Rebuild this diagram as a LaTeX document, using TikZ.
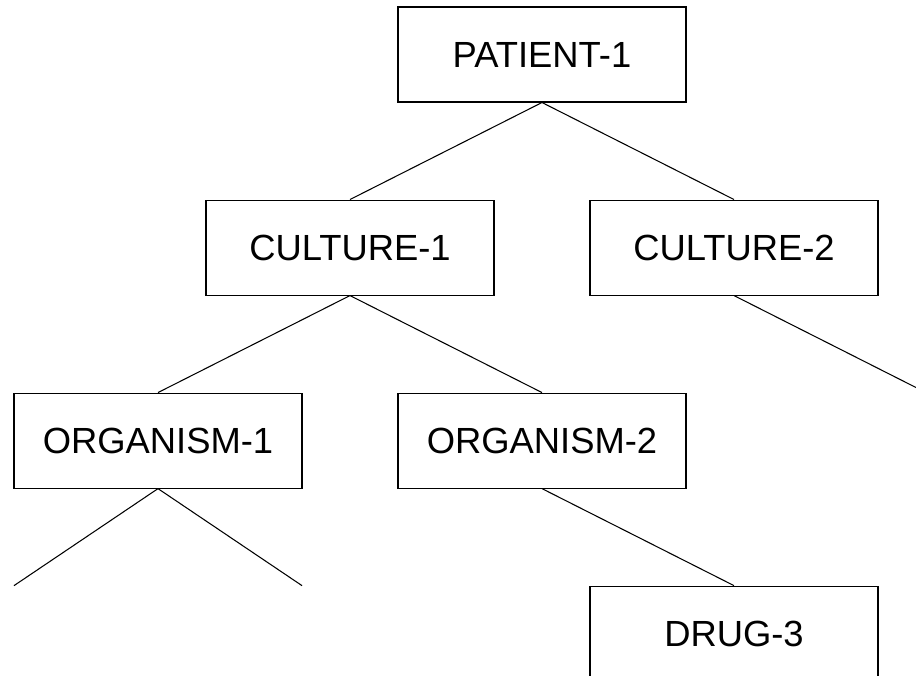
\documentclass[tikz,border=0pt]{standalone}
\usepackage{fontspec}
\setmainfont{Liberation Sans}
\usetikzlibrary{positioning}

\begin{document}
\begin{tikzpicture}[
  box/.style={rectangle, draw=black, line width=0.6pt, minimum width=5.76cm, minimum height=1.9cm, inner sep=0pt, font=\fontsize{20.7}{24}\selectfont},
  line/.style={line width=0.6pt},
  node distance=1.94cm
]

\path[use as bounding box, clip] (0,0) rectangle (18.32,-13.52);

% Tree nodes placed relatively
\node[box] (P) at (10.84,-1.09) {PATIENT-1};
\node[box, below=of P, xshift=-3.84cm] (C1) {CULTURE-1};
\node[box, below=of P, xshift=3.84cm] (C2) {CULTURE-2};

\node[box, below=of C1, xshift=-3.84cm] (O1) {ORGANISM-1};
\node[box, below=of C1, xshift=3.84cm] (O2) {ORGANISM-2};

\node[box, below=of O2, xshift=3.84cm] (D3) {DRUG-3};

% Loose ends of branches that leave the picture
\coordinate (C2_k) at ([shift={(3.84cm,-1.94cm)}]C2.south);
\coordinate (O1_l) at ([shift={(-2.88cm,-1.94cm)}]O1.south);
\coordinate (O1_r) at ([shift={(2.88cm,-1.94cm)}]O1.south);

% Branches
\draw[line] (P.south) -- (C1.north);
\draw[line] (P.south) -- (C2.north);

\draw[line] (C1.south) -- (O1.north);
\draw[line] (C1.south) -- (O2.north);
\draw[line] (C2.south) -- (C2_k);

\draw[line] (O1.south) -- (O1_l);
\draw[line] (O1.south) -- (O1_r);
\draw[line] (O2.south) -- (D3.north);

\end{tikzpicture}
\end{document}
